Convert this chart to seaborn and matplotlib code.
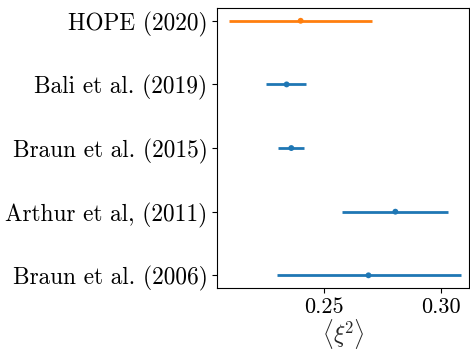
import matplotlib
matplotlib.use("Agg")
import matplotlib.pyplot as plt
import seaborn as sns
import pandas as pd
import numpy as np

# values, bottom to top
labels = ["Braun et al. (2006)", "Arthur et al, (2011)", "Braun et al. (2015)",
          "Bali et al. (2019)", "HOPE (2020)"]
centers = [0.269, 0.2805, 0.236, 0.234, 0.240]
err_lo = [0.039, 0.0227, 0.0058, 0.0088, 0.0305]
err_hi = [0.0396, 0.0227, 0.0056, 0.0082, 0.0305]
group = ["other", "other", "other", "other", "hope"]

sns.set_style("ticks")
plt.rcParams["font.family"] = ["cmr10"]
plt.rcParams["mathtext.fontset"] = "cm"
plt.rcParams["axes.formatter.use_mathtext"] = True
plt.rcParams["axes.unicode_minus"] = False

df = pd.DataFrame({"label": labels, "x": centers, "lo": err_lo, "hi": err_hi,
                   "group": group})
df["pos"] = np.arange(len(df))

palette = {"other": "#1f77b4", "hope": "#ff7f0e"}

fig = plt.figure(figsize=(4.7, 3.5), dpi=100)
ax = fig.add_axes([0.462, 0.177, 0.536, 0.8])

for g, sub in df.groupby("group"):
    ax.errorbar(sub["x"], sub["pos"], xerr=[sub["lo"], sub["hi"]], fmt="none",
                ecolor=palette[g], elinewidth=2, capsize=0)
sns.scatterplot(data=df, x="x", y="pos", hue="group", palette=palette,
                s=18, edgecolor="none", legend=False, ax=ax, zorder=3)

ax.set_yticks(df["pos"])
ax.set_yticklabels(df["label"], fontsize=16.8)
ax.set_xticks([0.25, 0.30])
ax.set_xticklabels(["0.25", "0.30"], fontsize=16)
ax.set_xlim(0.2043, 0.312)
ax.set_xlabel(r"$\langle\xi^{\!2}\rangle$", fontsize=17, labelpad=0)
ax.set_ylabel("")
for s in ax.spines.values():
    s.set_linewidth(0.8)
    s.set_color("black")
ax.tick_params(length=3.5, width=0.8, colors="black")

fig.savefig("out.png", dpi=100)
